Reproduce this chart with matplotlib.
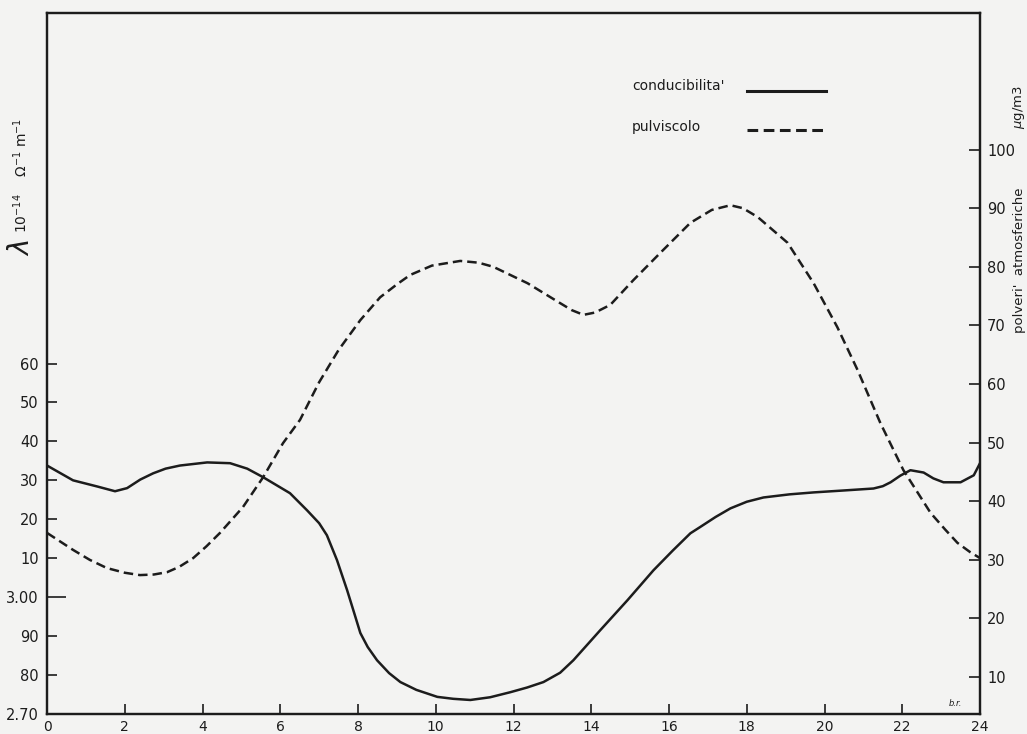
import numpy as np
import matplotlib
matplotlib.use('Agg')
from matplotlib import pyplot as plt

# ora del giorno e conducibilita' (unita' 1e-14 ohm^-1 m^-1)
ore_cond = [0, 0.67, 1.3, 1.75, 2.06, 2.4, 2.73, 3.05, 3.42, 4.12, 4.71, 5.15,
            5.56, 6.25, 6.69, 7.0, 7.2, 7.46, 7.72, 7.9, 8.06, 8.25, 8.49, 8.8,
            9.09, 9.5, 10.04, 10.45, 10.89, 11.4, 11.92, 12.35, 12.77, 13.2,
            13.54, 14.23, 14.93, 15.6, 16.1, 16.55, 16.8, 17.2, 17.58, 18.0,
            18.43, 19.1, 19.72, 20.5, 21.26, 21.5, 21.7, 21.95, 22.21, 22.55,
            22.8, 23.06, 23.5, 23.84, 24]
conducibilita = [3.338, 3.30, 3.284, 3.272, 3.28, 3.302, 3.318, 3.330, 3.338,
                 3.346, 3.344, 3.33, 3.308, 3.267, 3.223, 3.19, 3.159, 3.095,
                 3.018, 2.96, 2.908, 2.872, 2.838, 2.805, 2.782, 2.762, 2.744,
                 2.739, 2.736, 2.743, 2.756, 2.768, 2.782, 2.806, 2.838, 2.915,
                 2.992, 3.069, 3.12, 3.164, 3.18, 3.206, 3.228, 3.245, 3.256,
                 3.264, 3.269, 3.274, 3.279, 3.285, 3.295, 3.312, 3.326, 3.32,
                 3.305, 3.295, 3.295, 3.313, 3.344]

# pulviscolo atmosferico (microgrammi / m3)
ore_pulv = [0, 0.67, 1.1, 1.54, 2.0, 2.39, 2.75, 3.09, 3.4, 3.76, 4.1, 4.45,
            5.04, 5.56, 6.07, 6.51, 7.0, 7.5, 8.06, 8.57, 9.0, 9.34, 9.9,
            10.63, 11.1, 11.48, 12.36, 13.2, 13.5, 13.8, 14.1, 14.49, 15.08,
            15.78, 16.55, 17.1, 17.58, 17.9, 18.28, 19.05, 19.72, 20.33, 20.85,
            21.44, 22.03, 22.73, 23.1, 23.42, 23.75, 24]
pulviscolo = [34.6, 31.7, 30.0, 28.6, 27.8, 27.4, 27.5, 27.9, 28.8, 30.3,
              32.3, 34.6, 39.0, 44.1, 49.9, 53.9, 60.3, 65.8, 70.9, 74.8, 77.0,
              78.6, 80.2, 81.0, 80.7, 80.0, 77.2, 73.8, 72.6, 71.8, 72.2, 73.5,
              77.7, 82.4, 87.5, 89.7, 90.5, 90.0, 88.5, 84.1, 77.2, 69.7, 62.4,
              53.3, 45.3, 38.0, 35.2, 32.9, 31.3, 30.3]

ticks_x = list(range(0, 25, 2))
ticks_sx = [2.70, 2.80, 2.90, 3.00, 3.10, 3.20, 3.30, 3.40, 3.50, 3.60]
etich_sx = ['2.70', '80', '90', '3.00', '10', '20', '30', '40', '50', '60']
ticks_dx = [10, 20, 30, 40, 50, 60, 70, 80, 90, 100]

nero = '#1c1c1c'
fondo = '#f3f3f2'

plt.rcParams['font.family'] = ['DejaVu Sans']

fig = plt.figure(figsize=(10.27, 7.34), dpi=100, facecolor=fondo)
ax = fig.add_axes([47 / 1027, 20 / 734, 933 / 1027, 701 / 734])
ax.set_facecolor(fondo)
ax2 = ax.twinx()

ax.plot(ore_cond, conducibilita, color=nero, lw=1.8, solid_joinstyle='round')
ax2.plot(ore_pulv, pulviscolo, color=nero, lw=1.8, dashes=(3.8, 2.0))

ax.set_xlim(0, 24)
ax.set_ylim(2.70, 4.50)
ax2.set_ylim(3.7, 123.3)

ax.set_xticks(ticks_x)
ax.set_xticklabels([str(t) for t in ticks_x])
ax.set_yticks(ticks_sx)
ax.set_yticklabels(etich_sx)
ax2.set_yticks(ticks_dx)
ax2.set_yticklabels([str(t) for t in ticks_dx])

ax.tick_params(axis='x', direction='in', length=7, width=1.2, pad=4,
               labelsize=10, colors=nero, top=False)
ax.tick_params(axis='y', direction='in', length=7, width=1.2, pad=6,
               labelsize=10.5, colors=nero)
ax2.tick_params(axis='y', direction='in', length=8, width=1.2, pad=5,
                labelsize=10.5, colors=nero)
# la tacca di 3.00 e' piu' lunga
ax.yaxis.get_major_ticks()[3].tick1line.set_markersize(14)

for a in (ax, ax2):
    for s in a.spines.values():
        s.set_linewidth(1.6)
        s.set_color(nero)

# etichetta asse sinistro
fig.text(21 / 1027, 1 - 248 / 734, r'$\lambda$', fontsize=20, rotation=90,
         ha='center', va='center', color=nero, fontweight='bold')
fig.text(21 / 1027, 1 - 233 / 734, r'10$^{-14}$    $\Omega^{-1}$ m$^{-1}$',
         fontsize=10, rotation=90, ha='center', va='bottom', color=nero)

# etichetta asse destro
fig.text(1019 / 1027, 1 - 260 / 734, "polveri'  atmosferiche", fontsize=9.5,
         rotation=90, ha='center', va='center', color=nero)
fig.text(1019 / 1027, 1 - 107 / 734, r'$\mu$g/m3', fontsize=9.5,
         rotation=90, ha='center', va='center', color=nero)

# legenda
fig.text(632 / 1027, 1 - 86 / 734, "conducibilita'", fontsize=10,
         ha='left', va='center', color=nero)
fig.text(632 / 1027, 1 - 127 / 734, 'pulviscolo', fontsize=10,
         ha='left', va='center', color=nero)
fig.add_artist(plt.Line2D([747 / 1027, 826 / 1027], [1 - 91 / 734, 1 - 91 / 734],
                          color=nero, lw=2.2, transform=fig.transFigure))
fig.add_artist(plt.Line2D([747 / 1027, 826 / 1027], [1 - 130 / 734, 1 - 130 / 734],
                          color=nero, lw=2.2, dashes=(3.5, 1.8),
                          transform=fig.transFigure))

fig.text(955 / 1027, 1 - 703 / 734, 'b.r.', fontsize=6, style='italic',
         ha='center', va='center', color=nero)

fig.savefig('out.png', dpi=100, facecolor=fondo)
